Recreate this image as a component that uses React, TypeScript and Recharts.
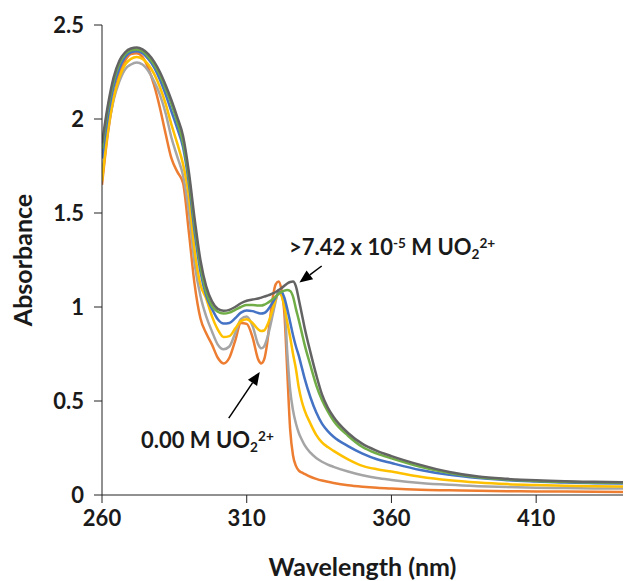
import { LineChart, Line, XAxis, YAxis, ReferenceLine } from 'recharts';

// wavelengths (nm) shared by every spectrum
const wavelengths = [
  260, 262, 264, 266, 268, 270, 272, 274, 276, 278, 280, 282, 284, 286, 288, 290, 292, 294, 296, 298,
  300, 302, 304, 306, 308, 310, 312, 314, 315, 316, 317, 318, 319, 320, 321, 322, 323, 324, 325, 326,
  327, 328, 329, 330, 332, 334, 336, 338, 340, 345, 350, 355, 360, 370, 380, 390, 400, 410, 420, 430, 440
];

// absorbance, 0.00 M UO2(2+)
const orange = [
  1.65, 1.92, 2.11, 2.24, 2.31, 2.345, 2.35, 2.33, 2.27, 2.18, 2.06, 1.92, 1.79, 1.72, 1.66, 1.4, 1.12, 0.94, 0.86, 0.8,
  0.73, 0.7, 0.73, 0.82, 0.915, 0.91, 0.84, 0.72, 0.7, 0.72, 0.8, 0.93, 1.05, 1.12, 1.135, 1.09, 0.97, 0.66, 0.35, 0.21,
  0.155, 0.13, 0.12, 0.112, 0.097, 0.086, 0.077, 0.07, 0.064, 0.052, 0.044, 0.038, 0.034, 0.028, 0.025, 0.022, 0.02, 0.019, 0.018, 0.017, 0.016
];

const gray = [
  1.7, 1.94, 2.1, 2.2, 2.265, 2.29, 2.3, 2.29, 2.255, 2.2, 2.13, 2.03, 1.9, 1.8, 1.7, 1.51, 1.23, 1.06, 0.95, 0.87,
  0.8, 0.775, 0.79, 0.86, 0.935, 0.95, 0.9, 0.8, 0.78, 0.79, 0.83, 0.89, 0.96, 1.03, 1.08, 1.07, 1.03, 0.76, 0.56, 0.45,
  0.38, 0.33, 0.295, 0.265, 0.225, 0.197, 0.177, 0.162, 0.15, 0.125, 0.105, 0.09, 0.08, 0.064, 0.054, 0.047, 0.042, 0.039, 0.037, 0.035, 0.034
];

const yellow = [
  1.67, 1.93, 2.11, 2.22, 2.29, 2.32, 2.33, 2.32, 2.29, 2.24, 2.17, 2.08, 1.97, 1.87, 1.76, 1.59, 1.3, 1.12, 1.045, 0.95,
  0.88, 0.84, 0.845, 0.885, 0.925, 0.935, 0.915, 0.88, 0.872, 0.875, 0.9, 0.94, 0.99, 1.04, 1.075, 1.06, 1.0, 0.92, 0.84, 0.75,
  0.67, 0.57, 0.5, 0.45, 0.38, 0.32, 0.28, 0.255, 0.235, 0.19, 0.155, 0.137, 0.125, 0.097, 0.078, 0.066, 0.058, 0.053, 0.049, 0.047, 0.045
];

const blue = [
  1.79, 2.01, 2.17, 2.27, 2.33, 2.355, 2.36, 2.35, 2.32, 2.275, 2.21, 2.13, 2.04, 1.95, 1.85, 1.66, 1.4, 1.19, 1.06, 0.99,
  0.935, 0.912, 0.915, 0.94, 0.97, 0.982, 0.978, 0.968, 0.965, 0.968, 0.98, 1.0, 1.025, 1.05, 1.075, 1.08, 1.05, 0.99, 0.92, 0.85,
  0.79, 0.74, 0.68, 0.62, 0.52, 0.44, 0.38, 0.34, 0.31, 0.26, 0.22, 0.19, 0.17, 0.133, 0.107, 0.09, 0.079, 0.072, 0.066, 0.063, 0.061
];

const green = [
  1.84, 2.05, 2.2, 2.295, 2.345, 2.365, 2.37, 2.36, 2.33, 2.29, 2.235, 2.16, 2.08, 1.985, 1.875, 1.69, 1.44, 1.22, 1.08, 1.005,
  0.975, 0.965, 0.97, 0.985, 1.0, 1.01, 1.01, 1.008, 1.008, 1.012, 1.02, 1.03, 1.042, 1.055, 1.07, 1.08, 1.087, 1.09, 1.085, 1.055,
  0.99, 0.93, 0.865, 0.8, 0.69, 0.585, 0.505, 0.445, 0.395, 0.315, 0.255, 0.22, 0.195, 0.15, 0.117, 0.095, 0.083, 0.075, 0.07, 0.067, 0.065
];

// absorbance, >7.42 x 10^-5 M UO2(2+)
const darkGray = [
  1.87, 2.07, 2.22, 2.31, 2.355, 2.375, 2.38, 2.37, 2.345, 2.305, 2.25, 2.18, 2.1, 2.01, 1.91, 1.72, 1.47, 1.25, 1.11, 1.03,
  0.99, 0.98, 0.985, 1.0, 1.02, 1.033, 1.04, 1.045, 1.05, 1.055, 1.06, 1.065, 1.072, 1.08, 1.09, 1.1, 1.113, 1.125, 1.133, 1.135,
  1.11, 1.04, 0.965, 0.89, 0.76, 0.64, 0.535, 0.465, 0.415, 0.33, 0.272, 0.235, 0.207, 0.16, 0.122, 0.098, 0.086, 0.078, 0.073, 0.07, 0.068
];

const xTicks = [260, 310, 360, 410];
const yTicks = [0, 0.5, 1, 1.5, 2, 2.5];

const series = [
  { key: 'orange', values: orange, color: '#ED7D31' },
  { key: 'gray', values: gray, color: '#A5A5A5' },
  { key: 'yellow', values: yellow, color: '#FFC000' },
  { key: 'blue', values: blue, color: '#4472C4' },
  { key: 'green', values: green, color: '#70AD47' },
  { key: 'darkGray', values: darkGray, color: '#636363' }
];

const rows = wavelengths.map((wl, i) => {
  const row: Record<string, number> = { wl };
  series.forEach(s => { row[s.key] = s.values[i]; });
  return row;
});

const font = 'Lato, "Open Sans", sans-serif';
const textColor = '#1a1a1a';

// arrow drawn between the two ends of a ReferenceLine segment, head at the second point
const Arrow = (props: any) => {
  const { x1, y1, x2, y2 } = props;
  const ang = Math.atan2(y2 - y1, x2 - x1);
  const len = 13;
  const w = 5.5;
  const bx = x2 - len * Math.cos(ang);
  const by = y2 - len * Math.sin(ang);
  const px = -Math.sin(ang) * w;
  const py = Math.cos(ang) * w;
  return (
    <g>
      <line x1={x1} y1={y1} x2={bx} y2={by} stroke="#000" strokeWidth={1.5} />
      <polygon points={`${x2},${y2} ${bx + px},${by + py} ${bx - px},${by - py}`} fill="#000" />
    </g>
  );
};

const YTitle = (props: any) => {
  const { viewBox } = props;
  const cx = viewBox.x + 22;
  const cy = viewBox.y + viewBox.height / 2;
  return (
    <text x={cx} y={cy} transform={`rotate(-90, ${cx}, ${cy})`} textAnchor="middle" dominantBaseline="central"
      fontFamily={font} fontWeight={700} fontSize={25} fill={textColor}>
      Absorbance
    </text>
  );
};

const XTitle = (props: any) => {
  const { viewBox } = props;
  return (
    <text x={viewBox.x + viewBox.width / 2} y={viewBox.y + 71} textAnchor="middle" dominantBaseline="central"
      fontFamily={font} fontWeight={700} fontSize={25} fill={textColor}>
      Wavelength (nm)
    </text>
  );
};

const noteStyle: React.CSSProperties = {
  position: 'absolute',
  fontFamily: font,
  fontWeight: 700,
  fontSize: 22,
  lineHeight: '24px',
  color: textColor,
  whiteSpace: 'nowrap'
};
const supStyle: React.CSSProperties = { fontSize: '0.62em', verticalAlign: '0.55em', lineHeight: 0 };
const subStyle: React.CSSProperties = { fontSize: '0.62em', verticalAlign: '-0.3em', lineHeight: 0 };

export default function App() {
  return (
    <div style={{ position: 'absolute', left: 0, top: 0, width: 624, height: 581, background: '#fff' }}>
      <LineChart width={624} height={581} data={rows} margin={{ top: 25, right: 1, bottom: 0, left: 0 }}>
        <XAxis
          dataKey="wl"
          type="number"
          domain={[260, 440]}
          ticks={xTicks}
          tickSize={8}
          tickMargin={7}
          height={86}
          stroke="#222"
          tick={{ fill: textColor, fontSize: 22, fontWeight: 700, fontFamily: font }}
          label={{ content: XTitle }}
          allowDataOverflow
        />
        <YAxis
          type="number"
          domain={[0, 2.5]}
          ticks={yTicks}
          tickSize={8}
          tickMargin={10}
          width={102}
          stroke="#222"
          tick={{ fill: textColor, fontSize: 22, fontWeight: 700, fontFamily: font }}
          label={{ content: YTitle }}
        />
        {series.map(s => (
          <Line
            key={s.key}
            dataKey={s.key}
            type="monotone"
            stroke={s.color}
            strokeWidth={2.5}
            dot={false}
            activeDot={false}
            isAnimationActive={false}
          />
        ))}
        <ReferenceLine segment={[{ x: 335.9, y: 1.218 }, { x: 328.2, y: 1.13 }]} shape={Arrow} ifOverflow="visible" />
        <ReferenceLine segment={[{ x: 303.8, y: 0.409 }, { x: 314.5, y: 0.654 }]} shape={Arrow} ifOverflow="visible" />
      </LineChart>
      <div style={{ ...noteStyle, left: 289, top: 235 }}>
        &gt;7.42 x 10<span style={supStyle}>-5</span> M UO<span style={subStyle}>2</span><span style={supStyle}>2+</span>
      </div>
      <div style={{ ...noteStyle, left: 141, top: 428 }}>
        0.00 M UO<span style={subStyle}>2</span><span style={supStyle}>2+</span>
      </div>
    </div>
  );
}
